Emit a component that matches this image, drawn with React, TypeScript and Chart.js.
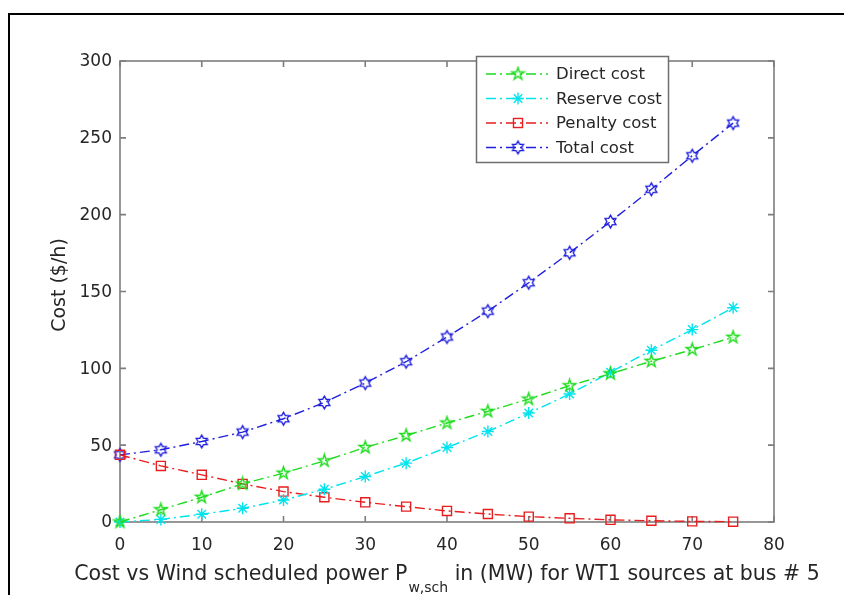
import React, { useEffect, useRef } from 'react';
import { Chart, registerables } from 'chart.js';

Chart.register(...registerables);

const xValues = [0, 5, 10, 15, 20, 25, 30, 35, 40, 45, 50, 55, 60, 65, 70, 75];
const directCost = [0, 8, 16.1, 24.8, 31.8, 39.8, 48.5, 56.3, 64.4, 72, 80, 88.7, 96.5, 104.6, 112.2, 120.2];
const reserveCost = [0, 1.7, 5, 8.9, 14.3, 21.3, 29.6, 38.3, 48.5, 58.9, 70.9, 83.3, 97.4, 111.8, 125.2, 139.4];
const penaltyCost = [43.7, 36.5, 30.7, 24.8, 19.8, 16.1, 12.8, 10, 7.2, 5.2, 3.5, 2.4, 1.4, 0.8, 0.4, 0.2];
const totalCost = [43.7, 47, 52.4, 58.5, 67.2, 77.8, 90.4, 104.3, 120.4, 137.2, 155.7, 175.2, 195.5, 216.5, 238.3, 259.6];
const seriesLabels = ['Direct cost', 'Reserve cost', 'Penalty cost', 'Total cost'];
const xTicks = [0, 10, 20, 30, 40, 50, 60, 70, 80];
const yTicks = [0, 50, 100, 150, 200, 250, 300];
const xTitleMain = 'Cost vs Wind scheduled power P';
const xTitleSub = 'w,sch';
const xTitleRest = ' in (MW) for WT1 sources at bus # 5';
const yTitle = 'Cost ($/h)';

const COLORS = ['rgb(30,220,30)', 'rgb(0,228,238)', 'rgb(232,30,30)', 'rgb(30,30,222)'];
const DASH = [10, 4, 2, 4];
const FONT = '"DejaVu Sans", sans-serif';
const TEXT = '#262626';
const AXIS = '#7d7d7d';

function makeStar(points: number, outer: number, inner: number, color: string) {
  const size = Math.ceil(outer * 2 + 4);
  const c = document.createElement('canvas');
  c.width = size;
  c.height = size;
  const ctx = c.getContext('2d')!;
  ctx.translate(size / 2, size / 2);
  ctx.beginPath();
  for (let i = 0; i < points * 2; i++) {
    const r = i % 2 === 0 ? outer : inner;
    const a = -Math.PI / 2 + (i * Math.PI) / points;
    ctx.lineTo(r * Math.cos(a), r * Math.sin(a));
  }
  ctx.closePath();
  ctx.strokeStyle = color;
  ctx.lineWidth = 1.4;
  ctx.stroke();
  return c;
}

export default function App() {
  const ref = useRef<HTMLCanvasElement>(null);

  useEffect(() => {
    const canvas = ref.current!;
    const penta = makeStar(5, 6.5, 6.5 * 0.382, COLORS[0]);
    const hexa = makeStar(6, 6.3, 6.3 / Math.sqrt(3), COLORS[3]);
    const styles: any[] = [penta, 'star', 'rect', hexa];
    const radii = [6.5, 6, 6.4, 6.3];
    const series = [directCost, reserveCost, penaltyCost, totalCost];

    const drawMarker = (ctx: CanvasRenderingContext2D, i: number, x: number, y: number) => {
      const st = styles[i];
      ctx.save();
      ctx.setLineDash([]);
      ctx.strokeStyle = COLORS[i];
      ctx.lineWidth = 1.4;
      if (typeof st !== 'string') {
        ctx.drawImage(st, x - st.width / 2, y - st.height / 2);
      } else if (st === 'rect') {
        const s = Math.SQRT1_2 * radii[i];
        ctx.strokeRect(x - s, y - s, 2 * s, 2 * s);
      } else {
        const r = radii[i];
        const d = r * Math.SQRT1_2;
        ctx.beginPath();
        ctx.moveTo(x - r, y); ctx.lineTo(x + r, y);
        ctx.moveTo(x, y - r); ctx.lineTo(x, y + r);
        ctx.moveTo(x - d, y - d); ctx.lineTo(x + d, y + d);
        ctx.moveTo(x - d, y + d); ctx.lineTo(x + d, y - d);
        ctx.stroke();
      }
      ctx.restore();
    };

    const axesPlugin = {
      id: 'matlabAxes',
      beforeDatasetsDraw(chart: any) {
        const ctx: CanvasRenderingContext2D = chart.ctx;
        const { left, right, top, bottom } = chart.chartArea;
        const xs = chart.scales.x;
        const ys = chart.scales.y;
        ctx.save();
        // outer frame
        ctx.fillStyle = '#000';
        ctx.fillRect(8, 13, 844, 2);
        ctx.fillRect(8, 13, 2, 595);
        // box
        ctx.strokeStyle = AXIS;
        ctx.lineWidth = 1.6;
        ctx.strokeRect(left, top, right - left, bottom - top);
        // inward ticks
        ctx.beginPath();
        const tl = 6;
        xTicks.forEach((v) => {
          const px = xs.getPixelForValue(v);
          ctx.moveTo(px, bottom); ctx.lineTo(px, bottom - tl);
          ctx.moveTo(px, top); ctx.lineTo(px, top + tl);
        });
        yTicks.forEach((v) => {
          const py = ys.getPixelForValue(v);
          ctx.moveTo(left, py); ctx.lineTo(left + tl, py);
          ctx.moveTo(right, py); ctx.lineTo(right - tl, py);
        });
        ctx.stroke();
        // tick labels
        ctx.fillStyle = TEXT;
        ctx.font = `17px ${FONT}`;
        ctx.textAlign = 'center';
        ctx.textBaseline = 'alphabetic';
        xTicks.forEach((v) => {
          ctx.fillText(String(v), xs.getPixelForValue(v), bottom + 28);
        });
        ctx.textAlign = 'right';
        ctx.textBaseline = 'middle';
        yTicks.forEach((v) => {
          ctx.fillText(String(v), left - 8, ys.getPixelForValue(v) + 1);
        });
        // y title
        ctx.save();
        ctx.translate(60, 285);
        ctx.rotate(-Math.PI / 2);
        ctx.textAlign = 'center';
        ctx.textBaseline = 'middle';
        ctx.font = `19px ${FONT}`;
        ctx.fillText(yTitle, 0, 0);
        ctx.restore();
        // x title with subscript
        ctx.textAlign = 'left';
        ctx.textBaseline = 'alphabetic';
        const mainFont = `20.5px ${FONT}`;
        const subFont = `14px ${FONT}`;
        ctx.font = mainFont;
        const wA = ctx.measureText(xTitleMain).width;
        const wB = ctx.measureText(xTitleRest).width;
        ctx.font = subFont;
        const wS = ctx.measureText(xTitleSub).width;
        const total = wA + 1 + wS + wB;
        const cx = (left + right) / 2;
        const x0 = cx - total / 2;
        ctx.font = mainFont;
        ctx.fillText(xTitleMain, x0, 580);
        ctx.font = subFont;
        ctx.fillText(xTitleSub, x0 + wA + 1, 592);
        ctx.font = mainFont;
        ctx.fillText(xTitleRest, x0 + wA + 1 + wS, 580);
        ctx.restore();
      },
      afterDraw(chart: any) {
        const ctx: CanvasRenderingContext2D = chart.ctx;
        ctx.save();
        // legend box
        const bx = 476.5, by = 56.5, bw = 192, bh = 106;
        ctx.fillStyle = '#fff';
        ctx.fillRect(bx, by, bw, bh);
        ctx.strokeStyle = '#6e6e6e';
        ctx.lineWidth = 1.5;
        ctx.strokeRect(bx, by, bw, bh);
        ctx.font = `16.5px ${FONT}`;
        ctx.textAlign = 'left';
        ctx.textBaseline = 'middle';
        seriesLabels.forEach((lab, i) => {
          const y = 74 + i * 24.5;
          ctx.save();
          ctx.strokeStyle = COLORS[i];
          ctx.lineWidth = 1.4;
          ctx.setLineDash(DASH);
          ctx.beginPath();
          ctx.moveTo(486, y);
          ctx.lineTo(548, y);
          ctx.stroke();
          ctx.restore();
          drawMarker(ctx, i, 518, y);
          ctx.fillStyle = TEXT;
          ctx.fillText(lab, 556, y + 1);
        });
        ctx.restore();
      },
    };

    const chart = new Chart(canvas, {
      type: 'line',
      data: {
        datasets: series.map((vals, i) => ({
          label: seriesLabels[i],
          data: xValues.map((x, j) => ({ x, y: vals[j] })),
          borderColor: COLORS[i],
          backgroundColor: 'rgba(0,0,0,0)',
          borderWidth: 1.4,
          borderDash: DASH,
          pointStyle: styles[i],
          pointRadius: radii[i],
          pointBorderColor: COLORS[i],
          pointBackgroundColor: 'rgba(0,0,0,0)',
          pointBorderWidth: 1.4,
          tension: 0,
          clip: false as any,
          fill: false,
        })),
      },
      options: {
        responsive: false,
        devicePixelRatio: 1,
        animation: false,
        layout: { padding: { top: 61, right: 70, bottom: 0, left: 0 } },
        plugins: { legend: { display: false }, tooltip: { enabled: false } },
        scales: {
          x: {
            type: 'linear',
            min: 0,
            max: 80,
            afterBuildTicks: (s: any) => { s.ticks = xTicks.map((v) => ({ value: v })); },
            ticks: { display: false },
            grid: { display: false, drawTicks: false },
            border: { display: false },
            afterFit: (s: any) => { s.height = 73; },
          },
          y: {
            type: 'linear',
            min: 0,
            max: 300,
            afterBuildTicks: (s: any) => { s.ticks = yTicks.map((v) => ({ value: v })); },
            ticks: { display: false },
            grid: { display: false, drawTicks: false },
            border: { display: false },
            afterFit: (s: any) => { s.width = 120; },
          },
        },
      },
      plugins: [axesPlugin],
    } as any);

    return () => chart.destroy();
  }, []);

  return (
    <div style={{ position: 'fixed', left: 0, top: 0, width: 844, height: 595, background: '#fff', overflow: 'hidden' }}>
      <canvas ref={ref} width={844} height={595} style={{ display: 'block', width: 844, height: 595 }} />
    </div>
  );
}
